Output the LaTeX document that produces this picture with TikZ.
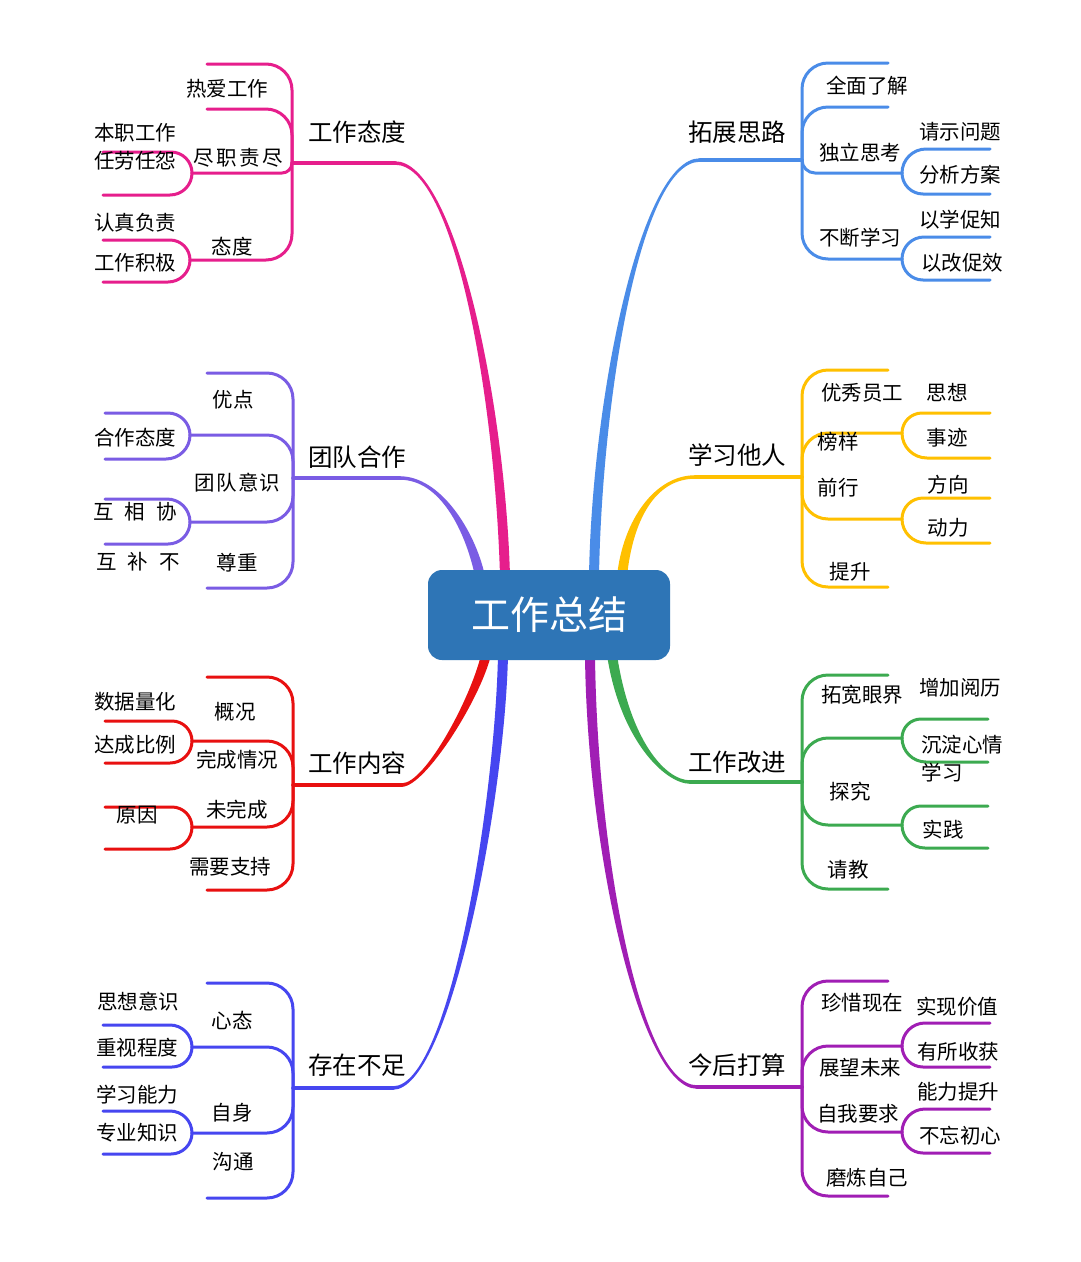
\documentclass[tikz,border=0pt]{standalone}
\usepackage{fontspec}
\setmainfont{Noto Sans CJK SC}
\definecolor{cpink}{RGB}{230,30,140}
\definecolor{cpurp}{RGB}{122,92,228}
\definecolor{cred}{RGB}{232,16,16}
\definecolor{cblue}{RGB}{70,70,240}
\definecolor{csky}{RGB}{74,140,232}
\definecolor{cyel}{RGB}{255,192,0}
\definecolor{cgrn}{RGB}{60,170,80}
\definecolor{cmag}{RGB}{160,30,180}
\definecolor{cbox}{RGB}{46,117,182}
\tikzset{
  kidline/.style={line width=3, line cap=round},
  mainline/.style={line width=3.5, line cap=round},
  lbl/.style={inner sep=0, font=\fontsize{20.5}{24}\selectfont, text=black},
  mlbl/.style={inner sep=0, font=\fontsize{24.5}{28}\selectfont, text=black},
  root/.style={rounded corners=14, fill=cbox, minimum width=242, minimum height=90,
     inner sep=0, text=white, font=\fontsize{39}{44}\selectfont}
}
\newcommand\kid[6]{\pgfmathsetmacro\rr{min(26,abs(#5-#3))}%
  \draw[#1,kidline,rounded corners=\rr pt] (#2,#3) -- (#2,#5) -- (#6,#5);}
\newcommand\taper[9]{\fill[#1] (#2,{#3-1.75}) .. controls (#4,{#3-1.75}) and ({#5+(#9)},#6) .. ({#7+(#9)},#8) -- ({#7-(#9)},#8) .. controls ({#5-(#9)},#6) and (#4,{#3+1.75}) .. (#2,{#3+1.75}) -- cycle;}
\begin{document}
\begin{tikzpicture}[x=1pt,y=-1pt]
\useasboundingbox (0,0) rectangle (1080,1262);
\fill[white] (0,0) rectangle (1080,1262);

% ---------- main tapered branches ----------
\taper{cpink}{395}{163}{455}{500}{400}{505}{576}{5}
\taper{cpurp}{400}{478}{440}{470}{530}{480}{576}{5}
\taper{cred}{402}{785}{425}{475}{700}{486}{655}{-5}
\taper{cblue}{393}{1088}{450}{500}{800}{503}{655}{-5}
\taper{csky}{700}{160}{640}{597}{400}{594}{576}{-5}
\taper{cyel}{695}{477}{655}{628}{520}{622}{576}{-5}
\taper{cgrn}{690}{782}{665}{625}{740}{612}{655}{5}
\taper{cmag}{697}{1087}{640}{592}{850}{590}{655}{5}

\draw[cpink,mainline] (292,163) -- (395,163);
\draw[cpurp,mainline] (293,478) -- (400,478);
\draw[cred,mainline] (293,785) -- (402,785);
\draw[cblue,mainline] (293,1088) -- (393,1088);
\draw[csky,mainline] (802,160) -- (700,160);
\draw[cyel,mainline] (802,477) -- (695,477);
\draw[cgrn,mainline] (802,782) -- (690,782);
\draw[cmag,mainline] (802,1087) -- (697,1087);

% ---------- pink ----------
\kid{cpink}{292}{163}{270}{64}{207}
\kid{cpink}{292}{163}{270}{109}{207}
\kid{cpink}{292}{163}{270}{173}{192}
\kid{cpink}{192}{173}{170}{152}{103}
\kid{cpink}{192}{173}{170}{195}{103}
\kid{cpink}{292}{163}{270}{260}{190}
\kid{cpink}{190}{260}{168}{240}{103}
\kid{cpink}{190}{260}{168}{282}{103}

% ---------- purple ----------
\kid{cpurp}{293}{478}{270}{373}{207}
\kid{cpurp}{293}{478}{270}{435}{190}
\kid{cpurp}{190}{435}{168}{413}{105}
\kid{cpurp}{190}{435}{168}{459}{105}
\kid{cpurp}{293}{478}{270}{522}{190}
\kid{cpurp}{190}{522}{168}{499}{105}
\kid{cpurp}{190}{522}{168}{544}{105}
\kid{cpurp}{293}{478}{270}{588}{207}

% ---------- red ----------
\kid{cred}{293}{785}{270}{677}{207}
\kid{cred}{293}{785}{270}{741}{192}
\kid{cred}{192}{741}{170}{721}{105}
\kid{cred}{192}{741}{170}{763}{105}
\kid{cred}{293}{785}{270}{827}{192}
\kid{cred}{192}{827}{170}{807}{105}
\kid{cred}{192}{827}{170}{849}{105}
\kid{cred}{293}{785}{270}{890}{207}

% ---------- blue (bottom left) ----------
\kid{cblue}{293}{1088}{270}{983}{207}
\kid{cblue}{293}{1088}{270}{1047}{192}
\kid{cblue}{192}{1047}{170}{1025}{103}
\kid{cblue}{192}{1047}{170}{1067}{103}
\kid{cblue}{293}{1088}{270}{1133}{192}
\kid{cblue}{192}{1133}{170}{1111}{103}
\kid{cblue}{192}{1133}{170}{1154}{103}
\kid{cblue}{293}{1088}{270}{1198}{207}

% ---------- sky blue (top right) ----------
\kid{csky}{802}{160}{822}{63}{888}
\kid{csky}{802}{160}{822}{107}{888}
\kid{csky}{802}{160}{822}{173}{902}
\kid{csky}{902}{173}{922}{149}{990}
\kid{csky}{902}{173}{922}{194}{990}
\kid{csky}{802}{160}{822}{259}{902}
\kid{csky}{902}{259}{922}{237}{990}
\kid{csky}{902}{259}{922}{280}{990}

% ---------- yellow ----------
\kid{cyel}{802}{477}{822}{370}{888}
\kid{cyel}{802}{477}{822}{433}{902}
\kid{cyel}{902}{433}{922}{413}{990}
\kid{cyel}{902}{433}{922}{458}{990}
\kid{cyel}{802}{477}{822}{519}{902}
\kid{cyel}{902}{519}{922}{498}{990}
\kid{cyel}{902}{519}{922}{543}{990}
\kid{cyel}{802}{477}{822}{587}{888}

% ---------- green ----------
\kid{cgrn}{802}{782}{822}{675}{888}
\kid{cgrn}{802}{782}{822}{738}{902}
\kid{cgrn}{902}{738}{922}{719}{988}
\kid{cgrn}{902}{738}{922}{762}{988}
\kid{cgrn}{802}{782}{822}{825}{902}
\kid{cgrn}{902}{825}{922}{806}{988}
\kid{cgrn}{902}{825}{922}{848}{988}
\kid{cgrn}{802}{782}{822}{889}{888}

% ---------- magenta ----------
\kid{cmag}{802}{1087}{822}{981}{888}
\kid{cmag}{802}{1087}{822}{1046}{902}
\kid{cmag}{902}{1046}{922}{1023}{990}
\kid{cmag}{902}{1046}{922}{1067}{990}
\kid{cmag}{802}{1087}{822}{1132}{902}
\kid{cmag}{902}{1132}{922}{1109}{990}
\kid{cmag}{902}{1132}{922}{1153}{990}
\kid{cmag}{802}{1087}{822}{1196}{888}

% ---------- root ----------
\node[root] (root) at (549,615) {工作总结};

% ---------- labels: left ----------
\node[mlbl] (a0) at (357,132) {工作态度};
\node[lbl] (a1) at (227,89) {热爱工作};
\node[lbl] (a2) at (135,133) {本职工作};
\node[lbl] (a3) at (135,161) {任劳任怨};
\node[lbl] (a4) at (238,158) {尽\hspace{2.5pt}职\hspace{2.5pt}责\hspace{2.5pt}尽};
\node[lbl] (a5) at (135,223) {认真负责};
\node[lbl] (a6) at (232,247) {态度};
\node[lbl] (a7) at (135,263) {工作积极};

\node[mlbl] (b0) at (357,457) {团队合作};
\node[lbl] (b1) at (233,400) {优点};
\node[lbl] (b2) at (135,438) {合作态度};
\node[lbl] (b3) at (237,483) {团\hspace{2pt}队\hspace{2pt}意识};
\node[lbl] (b4) at (135,512) {互\hspace{11pt}相\hspace{11pt}协};
\node[lbl] (b5) at (138,562) {互\hspace{11pt}补\hspace{11pt}不};
\node[lbl] (b6) at (237,563) {尊重};

\node[mlbl] (c0) at (357,763) {工作内容};
\node[lbl] (c1) at (235,712) {概况};
\node[lbl] (c2) at (135,702) {数据量化};
\node[lbl] (c3) at (135,745) {达成比例};
\node[lbl] (c4) at (237,760) {完成情况};
\node[lbl] (c5) at (237,810) {未完成};
\node[lbl] (c6) at (137,815) {原因};
\node[lbl] (c7) at (230,867) {需要支持};

\node[mlbl] (d0) at (357,1065) {存在不足};
\node[lbl] (d1) at (232,1020) {心态};
\node[lbl] (d2) at (138,1002) {思想意识};
\node[lbl] (d3) at (137,1048) {重视程度};
\node[lbl] (d4) at (137,1095) {学习能力};
\node[lbl] (d5) at (232,1113) {自身};
\node[lbl] (d6) at (137,1133) {专业知识};
\node[lbl] (d7) at (233,1162) {沟通};

% ---------- labels: right ----------
\node[mlbl] (e0) at (737,132) {拓展思路};
\node[lbl] (e1) at (867,86) {全面了解};
\node[lbl] (e2) at (860,153) {独立思考};
\node[lbl] (e3) at (960,132) {请示问题};
\node[lbl] (e4) at (960,175) {分析方案};
\node[lbl] (e5) at (960,220) {以学促知};
\node[lbl] (e6) at (860,238) {不断学习};
\node[lbl] (e7) at (962,263) {以改促效};

\node[mlbl] (f0) at (737,455) {学习他人};
\node[lbl] (f1) at (862,393) {优秀员工};
\node[lbl] (f2) at (947,393) {思想};
\node[lbl] (f3) at (838,442) {榜样};
\node[lbl] (f4) at (947,438) {事迹};
\node[lbl] (f5) at (838,488) {前行};
\node[lbl] (f6) at (948,485) {方向};
\node[lbl] (f7) at (948,528) {动力};
\node[lbl] (f8) at (850,572) {提升};

\node[mlbl] (g0) at (737,762) {工作改进};
\node[lbl] (g1) at (862,695) {拓宽眼界};
\node[lbl] (g2) at (960,688) {增加阅历};
\node[lbl] (g3) at (962,745) {沉淀心情};
\node[lbl] (g4) at (942,773) {学习};
\node[lbl] (g5) at (850,792) {探究};
\node[lbl] (g6) at (943,830) {实践};
\node[lbl] (g7) at (848,870) {请教};

\node[mlbl] (h0) at (737,1065) {今后打算};
\node[lbl] (h1) at (862,1003) {珍惜现在};
\node[lbl] (h2) at (957,1007) {实现价值};
\node[lbl] (h3) at (958,1052) {有所收获};
\node[lbl] (h4) at (860,1068) {展望未来};
\node[lbl] (h5) at (958,1092) {能力提升};
\node[lbl] (h6) at (858,1114) {自我要求};
\node[lbl] (h7) at (960,1136) {不忘初心};
\node[lbl] (h8) at (867,1178) {磨炼自己};
\end{tikzpicture}
\end{document}
